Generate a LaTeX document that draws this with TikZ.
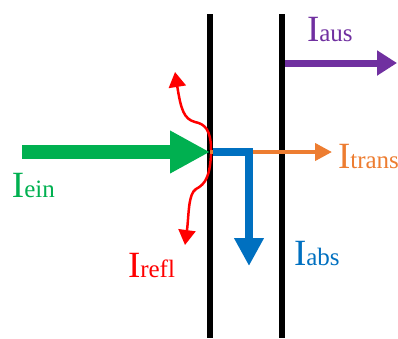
\documentclass[tikz,border=0pt]{standalone}
\usepackage{fontspec}
\setmainfont{Liberation Serif}
\usetikzlibrary{arrows.meta}
\definecolor{cgreen}{HTML}{00B050}
\definecolor{cblue}{HTML}{0070C0}
\definecolor{corange}{HTML}{ED7D31}
\definecolor{cpurple}{HTML}{7030A0}
\definecolor{cred}{HTML}{FF0000}
\newcommand{\intens}[2]{{\fontsize{37}{37}\selectfont #1}{\fontsize{25}{25}\selectfont #2}}
\begin{document}
\begin{tikzpicture}[x=1pt,y=-1pt,
  wall/.style={line width=6pt,black},
  lbl/.style={anchor=base west,inner sep=0pt,outer sep=0pt},
  redbeam/.style={cred,line width=2.5pt,-{Triangle[length=15pt,width=17pt]}}]
  \useasboundingbox (0,0) rectangle (398,338);
  % walls
  \coordinate (w1t) at (210,14); \coordinate (w1b) at (210,338);
  \coordinate (w2t) at (282,14); \coordinate (w2b) at (282,338);
  \draw[wall] (w1t) -- (w1b);
  \draw[wall] (w2t) -- (w2b);
  % incoming beam
  \coordinate (inS) at (22,152); \coordinate (hit) at (210,152);
  \draw[cgreen,line width=14pt,-{Triangle[length=40pt,width=40pt]}] (inS) -- (hit);
  % transmitted beam
  \coordinate (trE) at (332,152);
  \draw[corange,line width=4pt,-{Triangle[length=17pt,width=17pt]}] (hit) -- (trE);
  % absorbed beam
  \coordinate (abS) at (213,152); \coordinate (abC) at (249,152); \coordinate (abE) at (249,266);
  \draw[cblue,line width=8pt,-{Triangle[length=28pt,width=28pt]}] (abS) -- (abC) -- (abE);
  % outgoing beam
  \coordinate (ausS) at (285,63); \coordinate (ausE) at (397,63);
  \draw[cpurple,line width=7pt,-{Triangle[length=20pt,width=24pt]}] (ausS) -- (ausE);
  % reflected beams
  \draw[redbeam] (211,150) .. controls (211,130) and (205,124) .. (195,122)
     .. controls (184,119) and (181,110) .. (175,72);
  \draw[redbeam] (211,154) .. controls (210,175) and (206,184) .. (196,189)
     .. controls (188,194) and (189,215) .. (185,245);
  % labels
  \node[lbl,cpurple] (laus) at (307,41) {\intens{I}{aus}};
  \node[lbl,corange] (ltrans) at (338,168) {\intens{I}{trans}};
  \node[lbl,cgreen] (lein) at (12,197) {\intens{I}{ein}};
  \node[lbl,cred] (lrefl) at (128,277) {\intens{I}{refl}};
  \node[lbl,cblue] (labs) at (294,265) {\intens{I}{abs}};
\end{tikzpicture}
\end{document}
